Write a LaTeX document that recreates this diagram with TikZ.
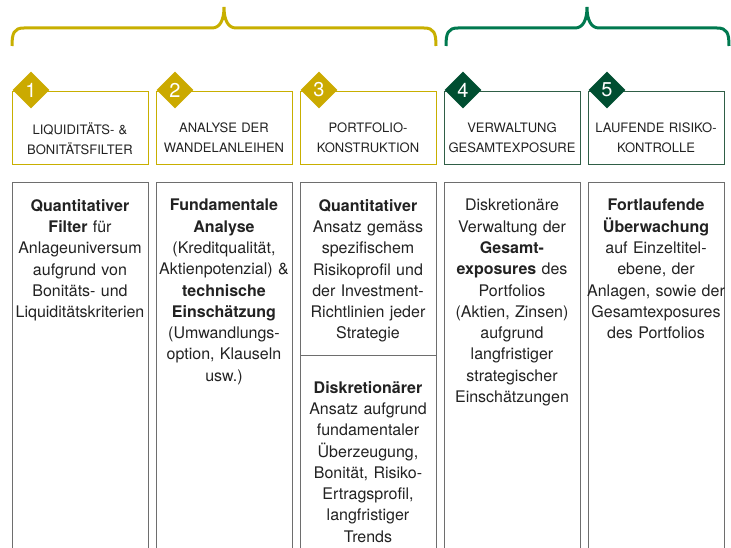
\documentclass[tikz,border=0pt]{standalone}
\usepackage{fontspec}
\setmainfont{TeX Gyre Heros}
\usetikzlibrary{shapes.geometric}

\definecolor{gold}{HTML}{C8AF00}
\definecolor{golddia}{HTML}{CBAA00}
\definecolor{greenbrace}{HTML}{00794F}
\definecolor{greendia}{HTML}{004E31}
\definecolor{greenline}{HTML}{2F5E46}
\definecolor{boxgray}{HTML}{6E6E6E}
\definecolor{textgray}{HTML}{222222}

\begin{document}
\begin{tikzpicture}[x=1pt, y=-1pt,
		headbox/.style={draw, line width=1.3pt, minimum width=136pt, minimum height=73pt, anchor=north west, inner sep=0pt},
		bodybox/.style={draw=boxgray, line width=1.4pt, anchor=north west, minimum width=136pt, inner sep=0pt},
		headtext/.style={anchor=north, inner sep=0pt, text width=140pt, align=center, text=textgray, font=\fontsize{13}{19.3}\selectfont},
		bodytext/.style={anchor=north, inner sep=0pt, text width=144pt, align=center, text=textgray, font=\fontsize{16}{21.3}\selectfont},
		numdia/.style={diamond, aspect=1, minimum size=37pt, inner sep=0pt, text=white, font=\fontsize{20}{20}\selectfont}]
		\useasboundingbox (0,0) rectangle (731,548);
		\clip (0,0) rectangle (731,548);

		% braces over the two groups of steps
		\draw [gold, line width=3pt] (12,46) .. controls (12,33) and (14,28) .. (24,28) -- (212,28) .. controls (220,28) and (224,20) .. (224,7) .. controls (224,20) and (228,28) .. (236,28) -- (424,28) .. controls (434,28) and (436,33) .. (436,46);
		\draw [greenbrace, line width=3pt] (446,46) .. controls (446,33) and (448,28) .. (458,28) -- (575,28) .. controls (583,28) and (587,20) .. (587,7) .. controls (587,20) and (591,28) .. (599,28) -- (717,28) .. controls (727,28) and (729,33) .. (729,46);

		% header boxes
		\node [headbox, draw=gold] (head1) at (12,91) {};
		\node [headbox, draw=gold] (head2) at (156,91) {};
		\node [headbox, draw=gold] (head3) at (300,91) {};
		\node [headbox, draw=greenline] (head4) at (444,91) {};
		\node [headbox, draw=greenline] (head5) at (588,91) {};

		\node [headtext] (htext1) at (80,123) {LIQUIDITÄTS- \&\\BONITÄTSFILTER};
		\node [headtext] (htext2) at (224,123) {ANALYSE DER\\WANDELANLEIHEN};
		\node [headtext] (htext3) at (368,123) {PORTFOLIO-\\KONSTRUKTION};
		\node [headtext] (htext4) at (512,123) {VERWALTUNG\\GESAMTEXPOSURE};
		\node [headtext] (htext5) at (656,123) {LAUFENDE RISIKO-\\KONTROLLE};

		% step numbers
		\node [numdia, fill=golddia] (num1) at (31,90) {1};
		\node [numdia, fill=golddia] (num2) at (175,90) {2};
		\node [numdia, fill=golddia] (num3) at (319,90) {3};
		\node [numdia, fill=greendia] (num4) at (463,90) {4};
		\node [numdia, fill=greendia] (num5) at (607,90) {5};

		% body boxes (open towards the bottom edge)
		\node [bodybox, minimum height=380pt] (body1) at (12,182) {};
		\node [bodybox, minimum height=380pt] (body2) at (156,182) {};
		\node [bodybox, minimum height=173pt] (body3a) at (300,182) {};
		\node [bodybox, minimum height=210pt] (body3b) at (300,355) {};
		\node [bodybox, minimum height=380pt] (body4) at (444,182) {};
		\node [bodybox, minimum height=380pt] (body5) at (588,182) {};

		\node [bodytext] (btext1) at (80,199) {\textbf{Quantitativer}\\\textbf{Filter} für\\Anlageuniversum\\aufgrund von\\Bonitäts- und\\Liquiditätskriterien};
		\node [bodytext] (btext2) at (224,199) {\textbf{Fundamentale}\\\textbf{Analyse}\\(Kreditqualität,\\Aktienpotenzial) \&\\\textbf{technische}\\\textbf{Einschätzung}\\(Umwandlungs-\\option, Klauseln\\usw.)};
		\node [bodytext] (btext3a) at (368,199) {\textbf{Quantitativer}\\Ansatz gemäss\\spezifischem\\Risikoprofil und\\der Investment-\\Richtlinien jeder\\Strategie};
		\node [bodytext] (btext3b) at (368,381) {\textbf{Diskretionärer}\\Ansatz aufgrund\\fundamentaler\\Überzeugung,\\Bonität, Risiko-\\Ertragsprofil,\\langfristiger\\Trends};
		\node [bodytext] (btext4) at (512,199) {Diskretionäre\\Verwaltung der\\\textbf{Gesamt-}\\\textbf{exposures} des\\Portfolios\\(Aktien, Zinsen)\\aufgrund\\langfristiger\\strategischer\\Einschätzungen};
		\node [bodytext] (btext5) at (656,199) {\textbf{Fortlaufende}\\\textbf{Überwachung}\\auf Einzeltitel-\\ebene, der\\Anlagen, sowie der\\Gesamtexposures\\des Portfolios};
	\end{tikzpicture}
\end{document}
